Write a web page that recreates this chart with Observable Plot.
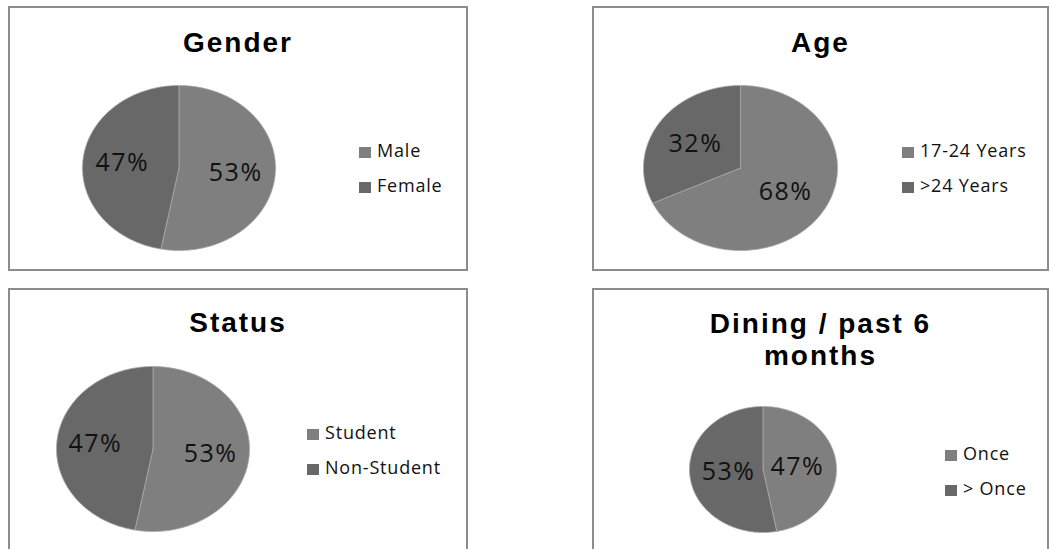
<!DOCTYPE html>
<html><head><meta charset="utf-8">
<script src="https://cdn.jsdelivr.net/npm/d3@7"></script>
<script src="https://cdn.jsdelivr.net/npm/@observablehq/plot@0.6"></script>
<style>
html,body{margin:0;padding:0;background:#fff;width:1050px;height:549px;overflow:hidden;font-family:"Open Sans",sans-serif;}
.panel{position:absolute;box-sizing:border-box;border:2px solid #8c8c8c;background:#fff;}
.panel svg{position:absolute;left:0;top:0;overflow:visible;}
.title{position:absolute;left:0;right:0;text-align:center;font-family:"Liberation Sans",Arial,sans-serif;font-weight:700;font-size:28px;letter-spacing:2px;color:#000;line-height:28px;height:28px;}
.leg{position:absolute;font-size:18px;letter-spacing:0.8px;color:#111;line-height:20px;white-space:nowrap;}
.leg .sw{display:inline-block;width:12px;height:11px;margin-right:6px;vertical-align:-1px;}
</style></head><body>
<script>
// ---- data ----
const titles = ["Gender", "Age", "Status", "Dining / past 6 months"];
const genderCats = ["Male", "Female"];
const genderVals = [53, 47];
const ageCats = ["17-24 Years", ">24 Years"];
const ageVals = [68, 32];
const statusCats = ["Student", "Non-Student"];
const statusVals = [53, 47];
const diningCats = ["Once", "> Once"];
const diningVals = [47, 53];
const sliceColors = ["#7f7f7f", "#686868"];

// ---- layout (panel geometry, not data) ----
const panels = [
  {cats: genderCats, vals: genderVals, title: ["Gender"], left: 8, top: 6, w: 460, h: 265, cx: 170.5, cy: 161.5, rx: 96.5, ry: 82.5, lf: 0.59, titleTops: [21], legX: 351, legY: [144, 179]},
  {cats: ageCats, vals: ageVals, title: ["Age"], left: 592, top: 6, w: 457, h: 265, cx: 148, cy: 161.5, rx: 97, ry: 82.5, lf: 0.55, titleTops: [21], legX: 310, legY: [144, 179]},
  {cats: statusCats, vals: statusVals, title: ["Status"], left: 8, top: 288, w: 460, h: 280, cx: 144.5, cy: 160.5, rx: 96.5, ry: 82.5, lf: 0.6, titleTops: [19], legX: 299, legY: [144, 179]},
  {cats: diningCats, vals: diningVals, title: ["Dining / past 6", "months"], left: 592, top: 288, w: 457, h: 280, cx: 170.5, cy: 181, rx: 73.5, ry: 63, lf: 0.47, titleTops: [20, 52], legX: 353, legY: [165, 200]}
];

function slicePts(a0, a1) {
  const pts = [{x: 0, y: 0}];
  const n = Math.max(2, Math.ceil((a1 - a0) * 360));
  for (let i = 0; i <= n; i++) {
    const a = 2 * Math.PI * (a0 + (a1 - a0) * i / n);
    pts.push({x: Math.sin(a), y: Math.cos(a)});
  }
  pts.push({x: 0, y: 0});
  return pts;
}

panels.forEach((p, pi) => {
  const div = document.createElement("div");
  div.className = "panel";
  Object.assign(div.style, {left: p.left + "px", top: p.top + "px", width: p.w + "px", height: p.h + "px"});
  document.body.appendChild(div);

  const total = d3.sum(p.vals);
  let acc = 0;
  const slices = p.vals.map((v, i) => {
    const a0 = acc / total; acc += v; const a1 = acc / total;
    const mid = 2 * Math.PI * (a0 + a1) / 2;
    return {cat: p.cats[i], v, a0, a1, lx: Math.sin(mid) * p.lf, ly: Math.cos(mid) * p.lf, label: Math.round(v / total * 100) + "%"};
  });

  const marks = slices.map((s, i) => Plot.line(slicePts(s.a0, s.a1), {x: "x", y: "y", fill: sliceColors[i], stroke: "#a8a8a8", strokeWidth: 0.8, curve: "linear"}));
  marks.push(Plot.text(slices, {x: "lx", y: "ly", text: "label", fontSize: 25, fill: "#111", fontFamily: "Open Sans", textAnchor: "middle"}));

  const svg = Plot.plot({
    width: p.w - 4, height: p.h - 4,
    margin: 0,
    x: {domain: [-1, 1], range: [p.cx - p.rx - 2, p.cx + p.rx - 2], axis: null},
    y: {domain: [-1, 1], range: [p.cy + p.ry - 2, p.cy - p.ry - 2], axis: null},
    style: {background: "transparent", fontFamily: "Open Sans", overflow: "visible"},
    marks
  });
  svg.querySelectorAll("text").forEach(t => t.setAttribute("letter-spacing", "1.5"));
  div.appendChild(svg);

  p.title.forEach((line, li) => {
    const t = document.createElement("div");
    t.className = "title";
    t.style.top = p.titleTops[li] + "px";
    t.textContent = line;
    div.appendChild(t);
  });

  p.cats.forEach((c, i) => {
    const l = document.createElement("div");
    l.className = "leg";
    l.style.left = (p.legX - 2) + "px";
    l.style.top = (p.legY[i] - 2 - 10) + "px";
    l.innerHTML = `<span class="sw" style="background:${sliceColors[i]}"></span>${c}`;
    div.appendChild(l);
  });
});
</script>
</body></html>
